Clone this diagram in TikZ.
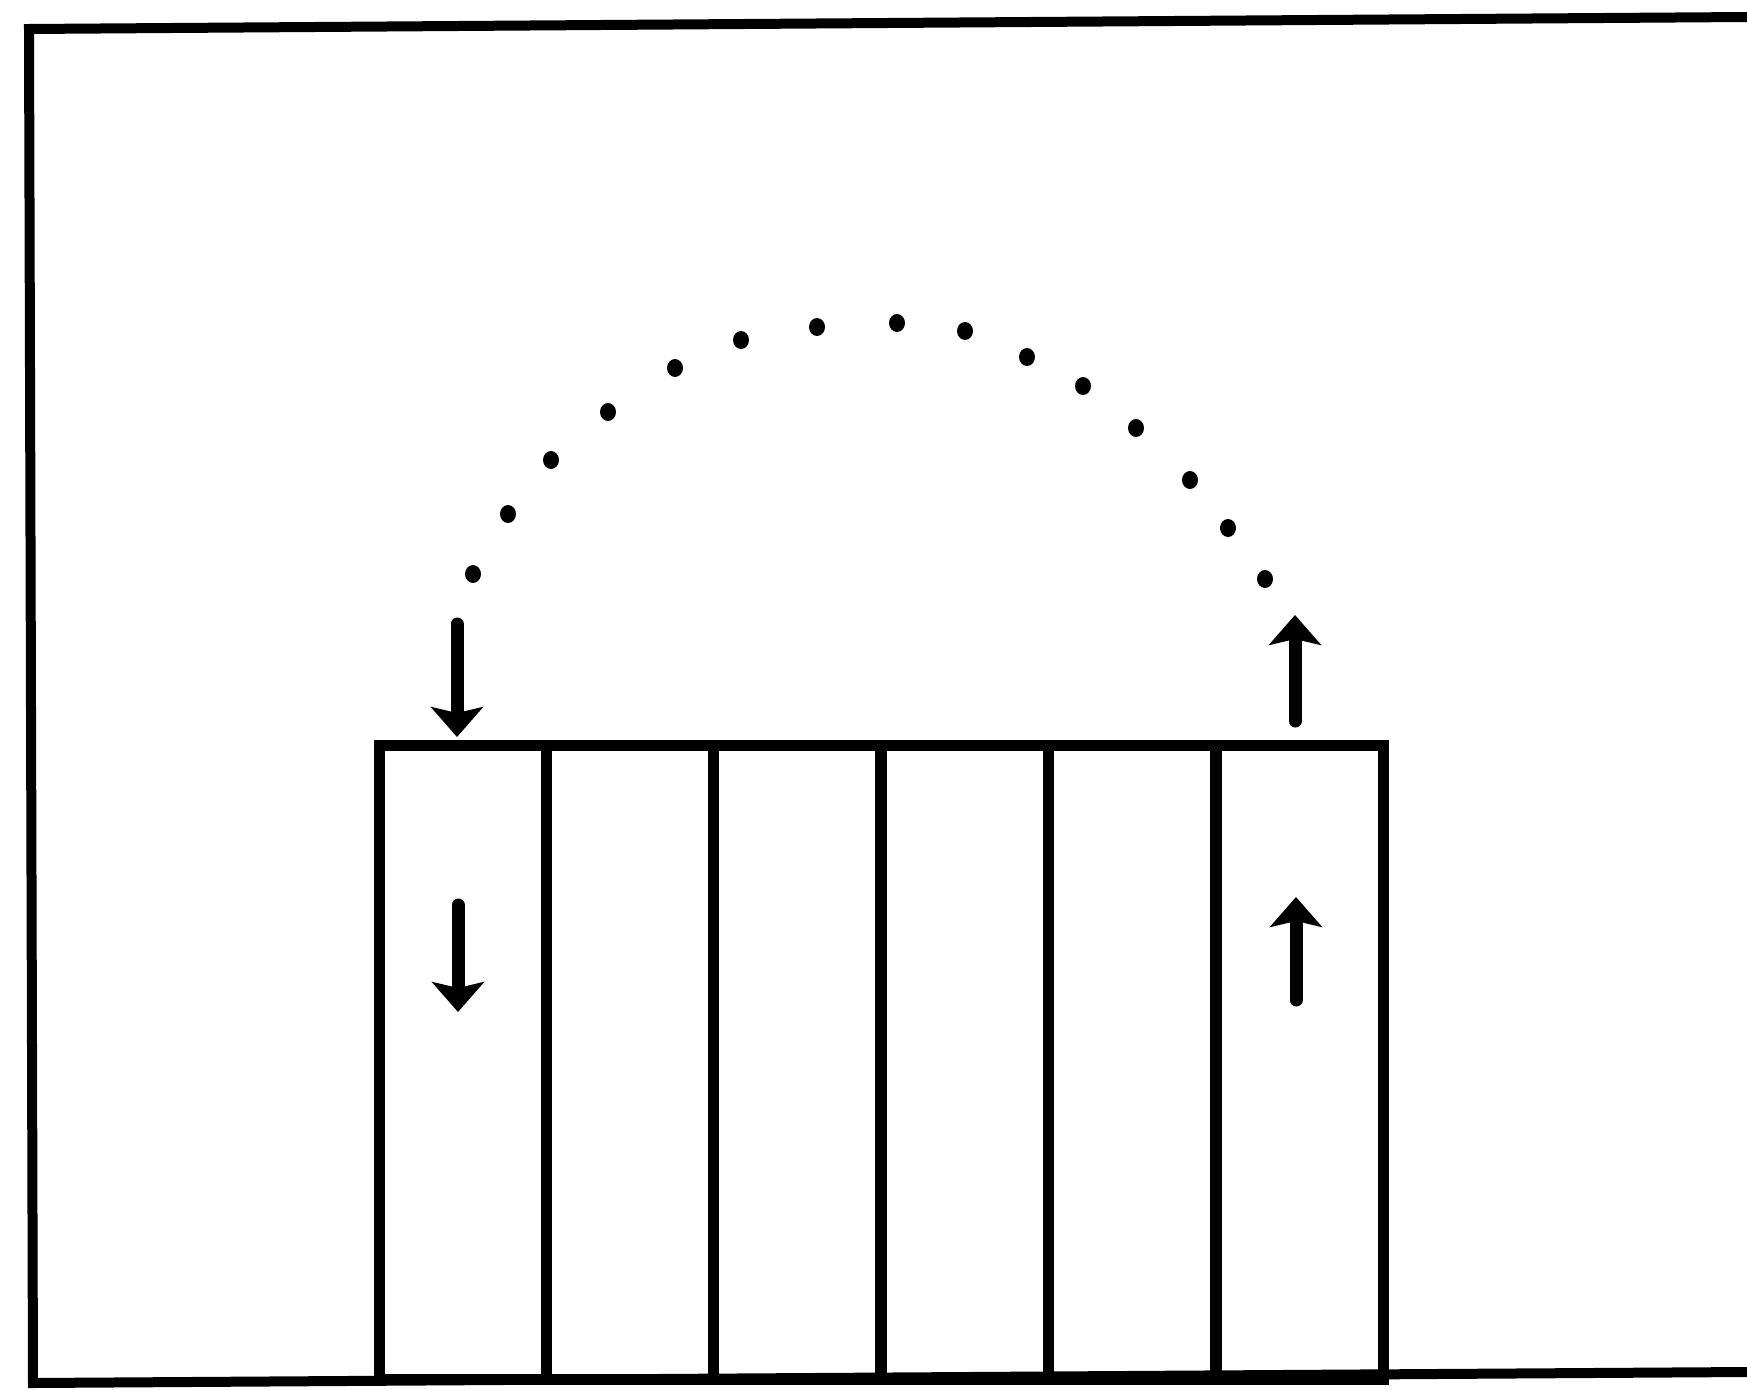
\documentclass[tikz,border=0pt]{standalone}
\usetikzlibrary{arrows.meta}
\begin{document}
\begin{tikzpicture}[x=1pt,y=-1pt,
  frame/.style={line width=10pt, line join=miter},
  col/.style={draw, rectangle, line width=11pt, minimum width=167pt, minimum height=634pt, inner sep=0pt, anchor=north west},
  flow/.style={line width=13pt, line cap=round, -{Stealth[length=30pt,width=52pt,inset=6pt]}},
  dot/.style={fill=black}]
\useasboundingbox (0,0) rectangle (1747,1389);
% outer frame (open on the right)
\draw[frame] (1747,17) -- (29,29) -- (33,1383) -- (1747,1372);
% six columns
\node[col] (c1) at (374,740) {};
\node[col] (c2) at (541,740) {};
\node[col] (c3) at (708,740) {};
\node[col] (c4) at (876,740) {};
\node[col] (c5) at (1043,740) {};
\node[col] (c6) at (1211,740) {};
% arrow end points
\coordinate (la1) at (457,624);
\coordinate (la2) at (457,737);
\coordinate (lb1) at (458,905);
\coordinate (lb2) at (458,1012);
\coordinate (ra1) at (1295,721);
\coordinate (ra2) at (1295,615);
\coordinate (rb1) at (1296,1000);
\coordinate (rb2) at (1296,897);
\draw[flow] (la1) -- (la2);
\draw[flow] (lb1) -- (lb2);
\draw[flow] (ra1) -- (ra2);
\draw[flow] (rb1) -- (rb2);
% dotted arc
\foreach \px/\py in {473/574, 508/514, 551/460, 608/412, 675/368, 741/340, 817/327, 897/323, 965/331, 1027/357, 1083/386, 1136/428, 1190/480, 1228/528, 1265/579}
  \fill[dot] (\px,\py) ellipse[x radius=8pt, y radius=9pt];
\end{tikzpicture}
\end{document}
